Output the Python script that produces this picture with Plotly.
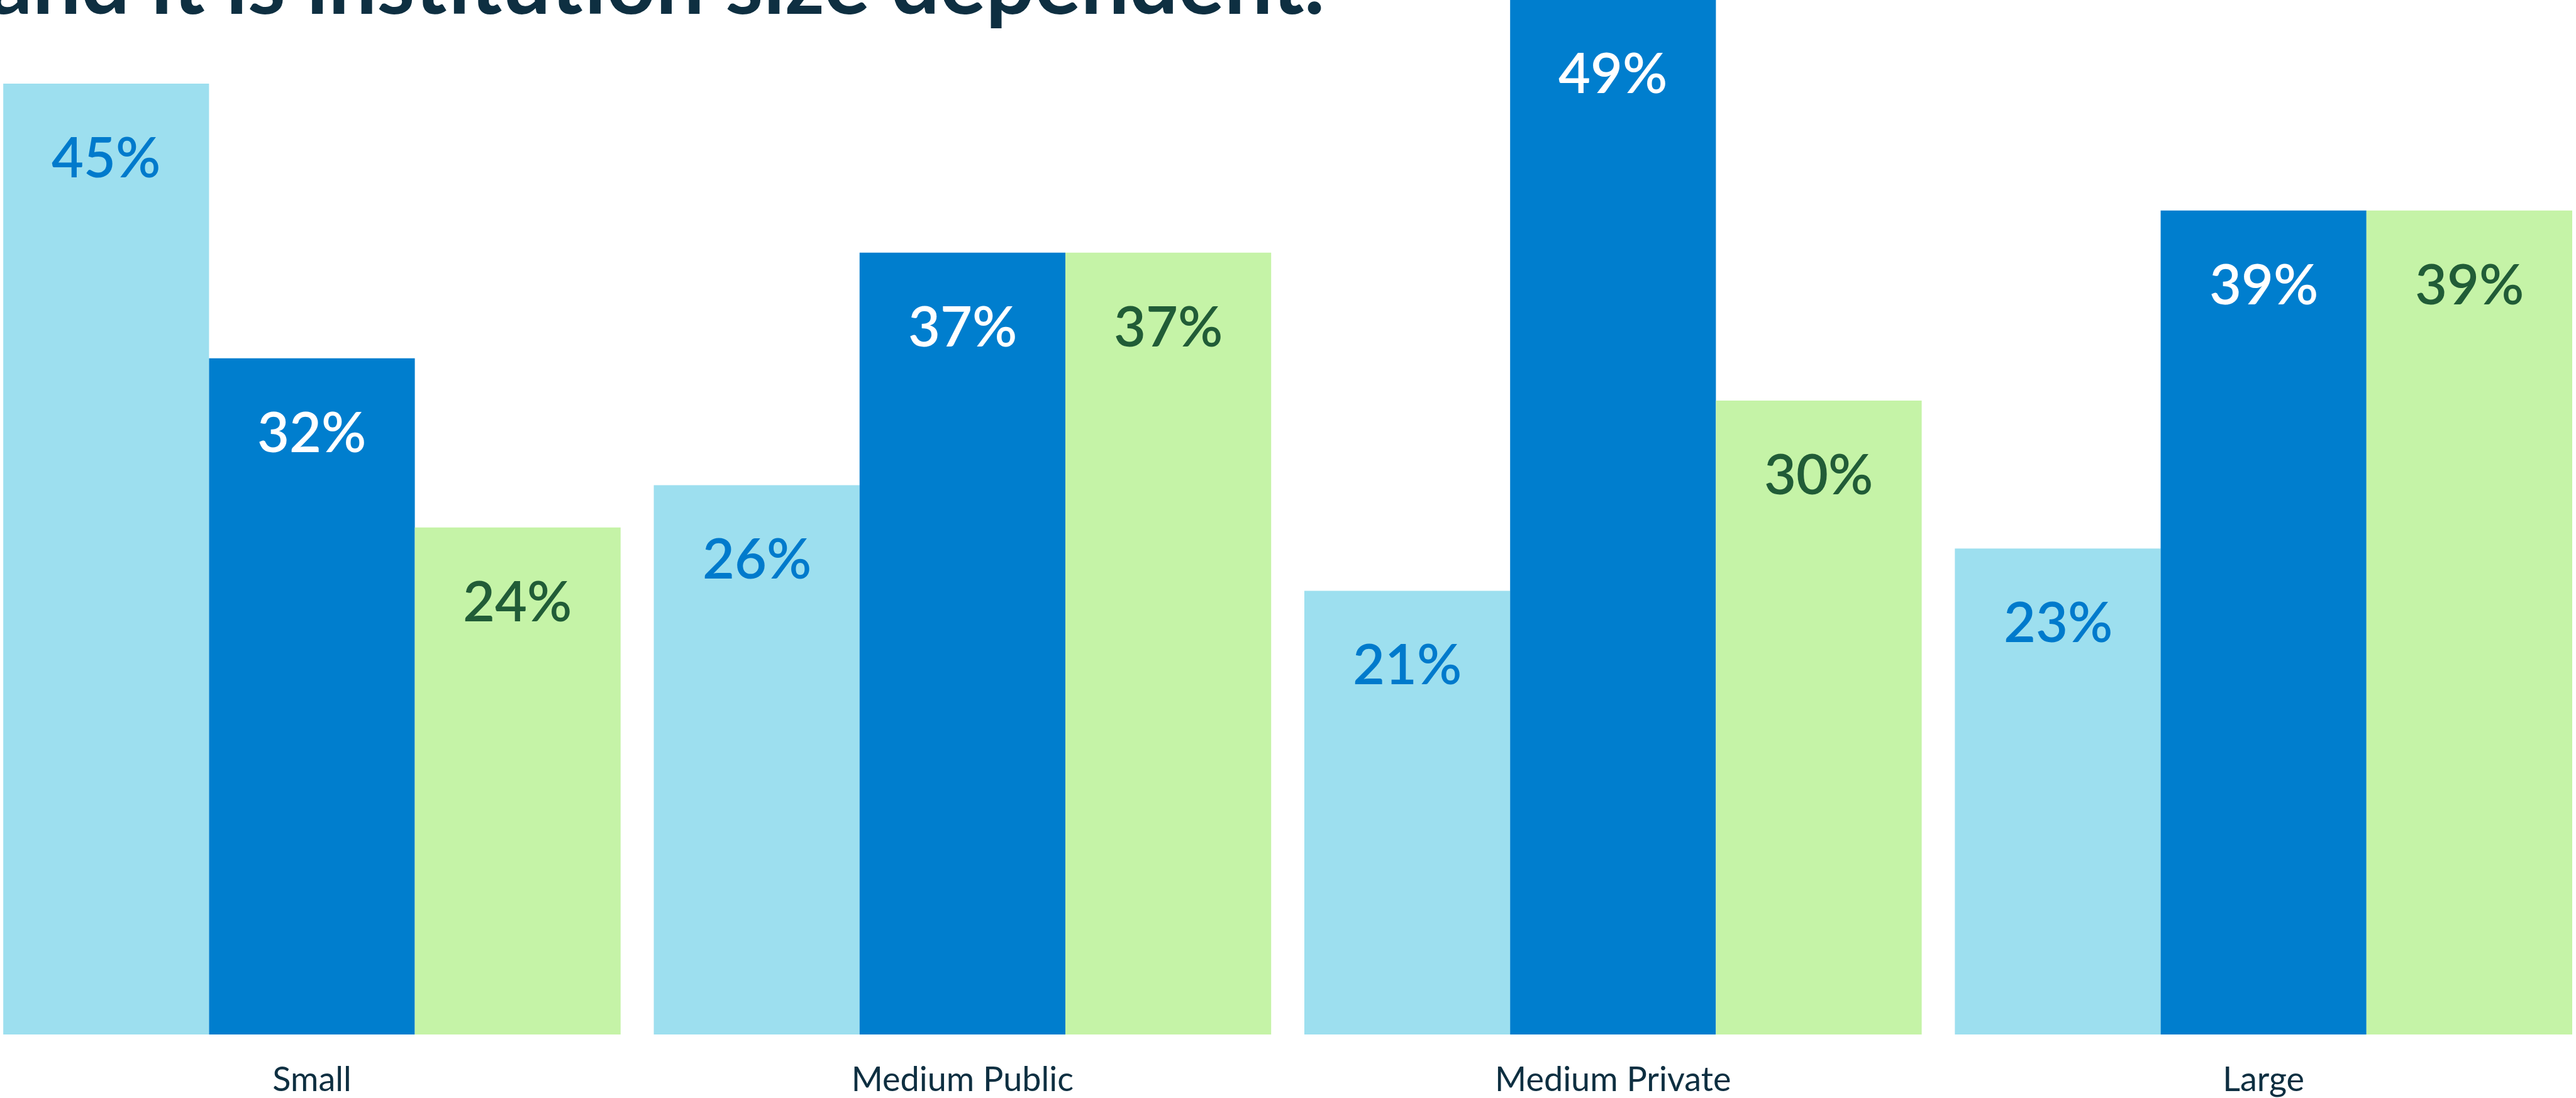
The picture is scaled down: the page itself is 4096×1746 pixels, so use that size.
import plotly.graph_objects as go

categories = ["Small", "Medium Public", "Medium Private", "Large"]
series_names = ["Series A", "Series B", "Series C"]
series_a = [45, 26, 21, 23]
series_b = [32, 37, 49, 39]
series_c = [24, 37, 30, 39]
title_text = "and it is institution size dependent."

bar_colors = ["#9DDFEF", "#007ECE", "#C5F3A7"]
text_colors = ["#007ACC", "#FFFFFF", "#215C37"]
dark = "#0E2F41"

W, H = 4096, 1746
plot_h = 1645
y_top = 48.96
bar_px = 327  # width of one bar in px (for label offsets)
label_drop_px = 115
label_drop = label_drop_px * y_top / plot_h  # in axis units

fig = go.Figure()
all_series = [series_a, series_b, series_c]
for name, vals, col in zip(series_names, all_series, bar_colors):
    fig.add_trace(go.Bar(x=categories, y=vals, name=name,
                         marker=dict(color=col, line=dict(width=0)),
                         hoverinfo="skip"))

annotations = []
offsets = [-bar_px, 0, bar_px]
for vals, tc, off in zip(all_series, text_colors, offsets):
    for c, v in zip(categories, vals):
        annotations.append(dict(
            x=c, y=v - label_drop, xref="x", yref="y", text=f"{v}%",
            showarrow=False, xanchor="center", yanchor="middle", xshift=off,
            font=dict(family="Lato", size=88, color=tc, weight=600)))

annotations.append(dict(
    x=0, y=1, xref="paper", yref="paper", text=title_text, showarrow=False,
    xanchor="left", yanchor="bottom", xshift=-20, yshift=-53,
    font=dict(family="Lato", size=137, color=dark, weight=700)))

fig.update_layout(
    width=W, height=H,
    margin=dict(l=0, r=0, t=0, b=H - plot_h, pad=0),
    paper_bgcolor="white", plot_bgcolor="white",
    barmode="group", bargap=0.051, bargroupgap=0,
    showlegend=False,
    annotations=annotations,
    xaxis=dict(range=[-0.4795, 3.4803], showgrid=False, zeroline=False,
               showline=False, ticks="", ticklabelstandoff=35,
               tickfont=dict(family="Lato", size=54, color=dark)),
    yaxis=dict(range=[0, y_top], visible=False, showgrid=False, zeroline=False),
)

fig.write_html("out.html")
